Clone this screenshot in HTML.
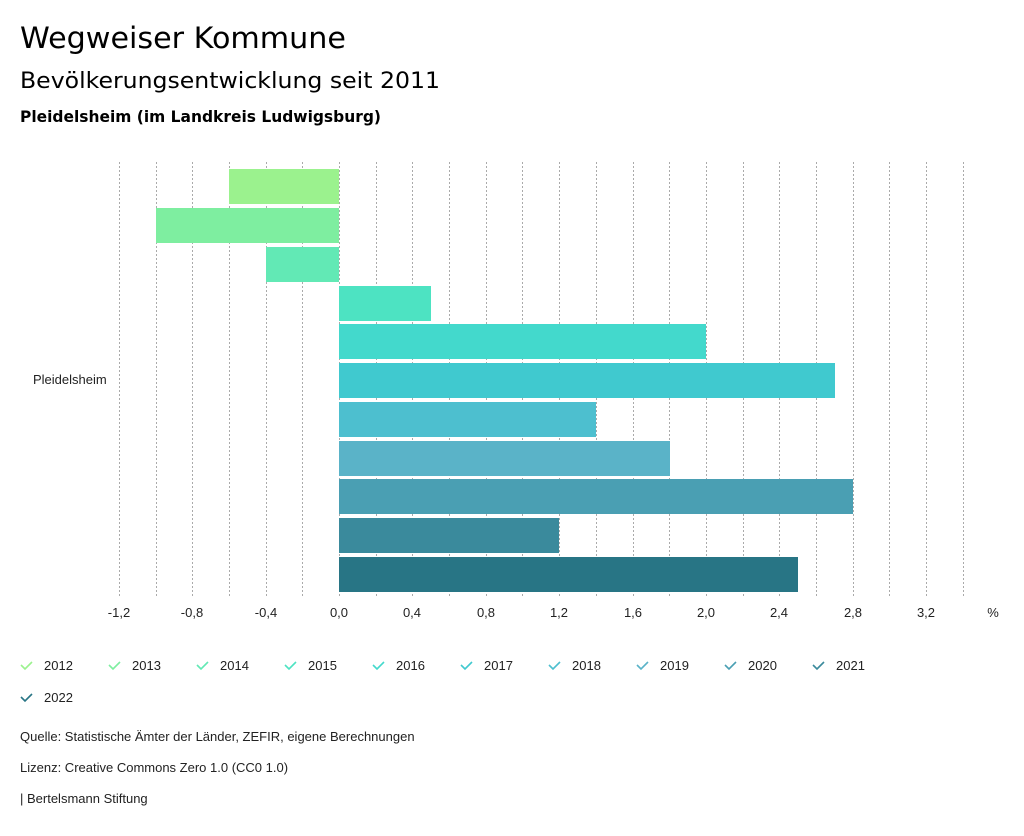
<!DOCTYPE html>
<html><head><meta charset="utf-8"><style>
body{margin:0;background:#fff;font-family:"Liberation Sans","DejaVu Sans",sans-serif;}
svg text{font-family:"Liberation Sans","DejaVu Sans",sans-serif;}
svg text.h{font-family:"DejaVu Sans",sans-serif;}
</style></head><body>
<svg width="1024" height="831" viewBox="0 0 1024 831" xmlns="http://www.w3.org/2000/svg">
<rect width="1024" height="831" fill="#fff"/>
<text class="h" x="20" y="48" font-size="29" fill="#000" textLength="326" lengthAdjust="spacingAndGlyphs">Wegweiser Kommune</text>
<text class="h" x="20" y="88" font-size="22.5" fill="#000" textLength="420" lengthAdjust="spacingAndGlyphs">Bevölkerungsentwicklung seit 2011</text>
<text class="h" x="20" y="122" font-size="16" font-weight="bold" fill="#000" textLength="361" lengthAdjust="spacingAndGlyphs">Pleidelsheim (im Landkreis Ludwigsburg)</text>
<g stroke="#aaa" stroke-width="1" stroke-dasharray="2,2">
<line x1="119.5" y1="162" x2="119.5" y2="598"/><line x1="156.5" y1="162" x2="156.5" y2="598"/>
<line x1="192.5" y1="162" x2="192.5" y2="598"/><line x1="229.5" y1="162" x2="229.5" y2="598"/>
<line x1="266.5" y1="162" x2="266.5" y2="598"/><line x1="302.5" y1="162" x2="302.5" y2="598"/>
<line x1="339.5" y1="162" x2="339.5" y2="598"/><line x1="376.5" y1="162" x2="376.5" y2="598"/>
<line x1="412.5" y1="162" x2="412.5" y2="598"/><line x1="449.5" y1="162" x2="449.5" y2="598"/>
<line x1="486.5" y1="162" x2="486.5" y2="598"/><line x1="522.5" y1="162" x2="522.5" y2="598"/>
<line x1="559.5" y1="162" x2="559.5" y2="598"/><line x1="596.5" y1="162" x2="596.5" y2="598"/>
<line x1="633.5" y1="162" x2="633.5" y2="598"/><line x1="669.5" y1="162" x2="669.5" y2="598"/>
<line x1="706.5" y1="162" x2="706.5" y2="598"/><line x1="743.5" y1="162" x2="743.5" y2="598"/>
<line x1="779.5" y1="162" x2="779.5" y2="598"/><line x1="816.5" y1="162" x2="816.5" y2="598"/>
<line x1="853.5" y1="162" x2="853.5" y2="598"/><line x1="889.5" y1="162" x2="889.5" y2="598"/>
<line x1="926.5" y1="162" x2="926.5" y2="598"/><line x1="963.5" y1="162" x2="963.5" y2="598"/>
</g>
<rect x="229" y="169" width="110" height="35" fill="#9bf28e"/>
<rect x="156" y="208" width="183" height="35" fill="#7eeea0"/>
<rect x="266" y="247" width="73" height="35" fill="#62e9b5"/>
<rect x="339" y="286" width="92" height="35" fill="#4de3c2"/>
<rect x="339" y="324" width="367" height="35" fill="#43d9cc"/>
<rect x="339" y="363" width="496" height="35" fill="#40c9cf"/>
<rect x="339" y="402" width="257" height="35" fill="#4dbfcf"/>
<rect x="339" y="441" width="331" height="35" fill="#5ab3c8"/>
<rect x="339" y="479" width="514" height="35" fill="#4a9fb3"/>
<rect x="339" y="518" width="220" height="35" fill="#3a8a9c"/>
<rect x="339" y="557" width="459" height="35" fill="#287585"/>
<text x="33" y="384" font-size="13" fill="#222">Pleidelsheim</text>
<g font-size="13" fill="#222" text-anchor="middle">
<text x="119" y="617">-1,2</text><text x="192" y="617">-0,8</text><text x="266" y="617">-0,4</text>
<text x="339" y="617">0,0</text><text x="412" y="617">0,4</text><text x="486" y="617">0,8</text>
<text x="559" y="617">1,2</text><text x="633" y="617">1,6</text><text x="706" y="617">2,0</text>
<text x="779" y="617">2,4</text><text x="853" y="617">2,8</text><text x="926" y="617">3,2</text>
<text x="993" y="617">%</text>
</g>
<g font-size="13" fill="#222" stroke-width="1.6">
<path d="M21 665l4 4 7-7" stroke="#9bf28e" fill="none"/><text x="44" y="670">2012</text>
<path d="M109 665l4 4 7-7" stroke="#7eeea0" fill="none"/><text x="132" y="670">2013</text>
<path d="M197 665l4 4 7-7" stroke="#62e9b5" fill="none"/><text x="220" y="670">2014</text>
<path d="M285 665l4 4 7-7" stroke="#4de3c2" fill="none"/><text x="308" y="670">2015</text>
<path d="M373 665l4 4 7-7" stroke="#43d9cc" fill="none"/><text x="396" y="670">2016</text>
<path d="M461 665l4 4 7-7" stroke="#40c9cf" fill="none"/><text x="484" y="670">2017</text>
<path d="M549 665l4 4 7-7" stroke="#4dbfcf" fill="none"/><text x="572" y="670">2018</text>
<path d="M637 665l4 4 7-7" stroke="#5ab3c8" fill="none"/><text x="660" y="670">2019</text>
<path d="M725 665l4 4 7-7" stroke="#4a9fb3" fill="none"/><text x="748" y="670">2020</text>
<path d="M813 665l4 4 7-7" stroke="#3a8a9c" fill="none"/><text x="836" y="670">2021</text>
<path d="M21 697l4 4 7-7" stroke="#287585" fill="none"/><text x="44" y="702">2022</text>
</g>
<g font-size="13" fill="#222">
<text x="20" y="741">Quelle: Statistische Ämter der Länder, ZEFIR, eigene Berechnungen</text>
<text x="20" y="772">Lizenz: Creative Commons Zero 1.0 (CC0 1.0)</text>
<text x="20" y="803">| Bertelsmann Stiftung</text>
</g>
</svg>
</body></html>
